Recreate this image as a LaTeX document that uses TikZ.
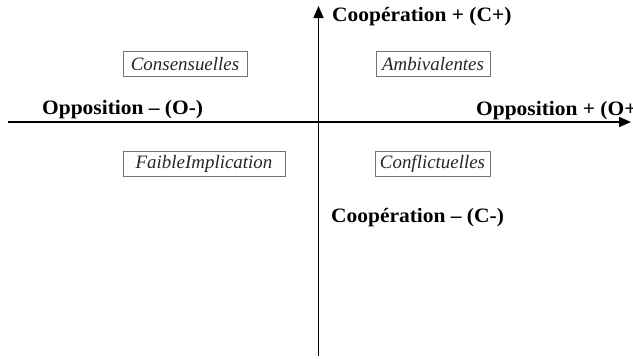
\documentclass[tikz,border=0pt]{standalone}
\usepackage{fontspec}
\setmainfont{Liberation Serif}
\newfontfamily\axfont[FakeStretch=1.05]{Liberation Serif}
\usetikzlibrary{arrows.meta}
\tikzset{
  axis/.style={line width=1.6bp, black, -{Triangle[length=12bp,width=10bp]}},
  axlabel/.style={font=\axfont\fontsize{20.5}{24}\selectfont\bfseries, anchor=base west, inner sep=0pt},
  catbox/.style={draw=black!55, line width=0.8bp, font=\fontsize{19}{23}\selectfont\itshape,
    inner sep=0pt, minimum height=25bp, text=black!85},
}
\begin{document}
\begin{tikzpicture}[x=1bp,y=-1bp]
\useasboundingbox (0,0) rectangle (633,358);
\coordinate (L) at (8,122);
\coordinate (R) at (631,122);
\coordinate (B) at (318.5,356);
\coordinate (T) at (318.5,6);
\draw[axis] (L) -- (R);
\draw[axis] (B) -- (T);
\node[axlabel] (cplus) at (332,21) {Coopération + (C+)};
\node[axlabel] (ominus) at (42,114.5) {Opposition – (O-)};
\node[axlabel] (oplus) at (476,115) {Opposition + (O+};
\node[axlabel] (cminus) at (331,222.5) {Coopération – (C-)};
\node[catbox, minimum width=124bp] (cons) at (185,64) {Consensuelles};
\node[catbox, minimum width=114bp] (amb) at (433,64) {Ambivalentes};
\node[catbox, minimum width=162bp] (faible) at (204,164) {FaibleImplication};
\node[catbox, minimum width=115bp] (confl) at (432.5,164) {Conflictuelles};
\end{tikzpicture}
\end{document}
